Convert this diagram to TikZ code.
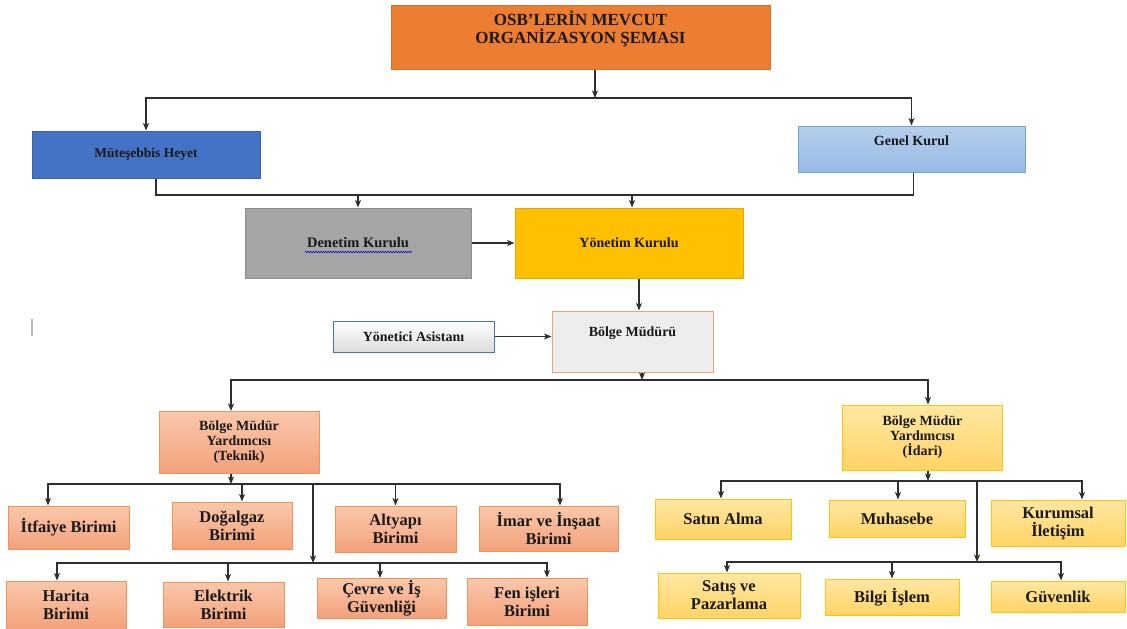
\documentclass[tikz,border=0pt]{standalone}
\usepackage{fontspec}
\setmainfont{Liberation Serif}
\usetikzlibrary{arrows.meta, positioning, calc, decorations.pathmorphing}

\definecolor{titlefill}{HTML}{ED7D31}
\definecolor{titleline}{HTML}{D9702A}
\definecolor{mutfill}{HTML}{4472C4}
\definecolor{mutline}{HTML}{3B63AC}
\definecolor{geneltop}{HTML}{B6CFEC}
\definecolor{genelbot}{HTML}{97BAE5}
\definecolor{genelline}{HTML}{74A3DC}
\definecolor{denfill}{HTML}{A5A5A5}
\definecolor{denline}{HTML}{8E8E8E}
\definecolor{yonfill}{HTML}{FFC000}
\definecolor{yonline}{HTML}{E2A900}
\definecolor{asline}{HTML}{4472C4}
\definecolor{asbot}{HTML}{DCDCDC}
\definecolor{bmfill}{HTML}{EDEDED}
\definecolor{bmline}{HTML}{F4A46E}
\definecolor{tektop}{HTML}{F9C8AB}
\definecolor{tekbot}{HTML}{F3A17B}
\definecolor{tekline}{HTML}{F0935A}
\definecolor{idrtop}{HTML}{FFE7A3}
\definecolor{idrbot}{HTML}{FFD465}
\definecolor{idrline}{HTML}{FFC20E}
\definecolor{linegray}{HTML}{2E2E2E}

\tikzstyle{every box} = []
\tikzstyle{every flow} = []
\tikzstyle{box} = [rectangle, draw, line width=1pt, align=center, inner sep=2pt,
                   text=black!90, every box]
\tikzstyle{flow} = [->, >={Stealth[length=7.5pt,width=6pt,inset=2pt]}, draw=linegray, line width=1.3pt, every flow]
\tikzstyle{branch} = [draw=linegray, line width=1.3pt, every flow]
\tikzstyle{unit} = [box, font=\fontsize{16.5}{18}\selectfont\bfseries]
\tikzstyle{tek} = [unit, draw=tekline, top color=tektop, bottom color=tekbot]
\tikzstyle{idr} = [unit, draw=idrline, top color=idrtop, bottom color=idrbot]

\begin{document}
\begin{tikzpicture}[
x=1pt, y=-1pt,
lift/.style={text depth=#1},
deputy/.style={box, font=\fontsize{14}{15}\selectfont\bfseries, minimum width=160, minimum height=62},
]
\useasboundingbox (0,0) rectangle (1127,629);

%Top
\node[box, draw=titleline, fill=titlefill, font=\fontsize{17}{18}\selectfont\bfseries,
      minimum width=379, minimum height=64, lift=20pt] (title) at (580.5,37)
      {OSB’LERİN MEVCUT\\ORGANİZASYON ŞEMASI};
\coordinate (bus1) at (595,98);
\draw[flow] (title.south -| bus1) -- (bus1);

\node[box, draw=mutline, fill=mutfill, font=\fontsize{13.5}{15}\selectfont\bfseries,
      minimum width=228, minimum height=47] (mut) at (146,154.5) {Müteşebbis Heyet};
\node[box, draw=genelline, top color=geneltop, bottom color=genelbot,
      font=\fontsize{14}{15}\selectfont\bfseries,
      minimum width=227, minimum height=46, lift=16pt] (genel) at (911.5,149) {Genel Kurul};
\draw[flow] (bus1) -| (mut);
\draw[flow] (bus1) -| (genel);

%Boards
\coordinate (bus2) at (500,195);
\node[box, draw=denline, fill=denfill, font=\fontsize{14.5}{15}\selectfont\bfseries,
      minimum width=226, minimum height=70] (denetim) at (358,243) {Denetim Kurulu};
\node[box, draw=yonline, fill=yonfill, font=\fontsize{14}{15}\selectfont\bfseries,
      minimum width=228, minimum height=70] (yonetim) at (629,243) {Yönetim Kurulu};
\draw[branch] ([xshift=10]mut.south) |- ([xshift=2]genel.south |- bus2) -- ([xshift=2]genel.south);
\draw[flow] (denetim.north |- bus2) -- (denetim);
\draw[flow] ([xshift=3]yonetim.north |- bus2) -- ([xshift=3]yonetim.north);
\draw[flow] (denetim) -- (yonetim);
\draw[blue!75!black, line width=0.5pt, decorate, decoration={snake, amplitude=0.7pt, segment length=2.5pt}]
      ($(denetim.center)+(-53,9)$) -- ($(denetim.center)+(54,9)$);

%Manager
\node[box, draw=asline, top color=white, bottom color=asbot, font=\fontsize{14}{15}\selectfont\bfseries,
      minimum width=161, minimum height=31] (asistan) at (413.5,336.5) {Yönetici Asistanı};
\node[box, draw=bmline, fill=bmfill, font=\fontsize{14}{15}\selectfont\bfseries,
      minimum width=161, minimum height=61, lift=19pt] (bolge) at (632.5,341.5) {Bölge Müdürü};
\draw[flow] ([xshift=10]yonetim.south) -- ([xshift=10]yonetim.south |- bolge.north);
\draw[flow] (asistan.east) -- (asistan.east -| bolge.west);
\draw[gray!55, line width=1.5pt] (32,319) -- (32,336);

\coordinate (bus3) at (642,380);
\draw[flow] (bolge.south -| bus3) -- (bus3);
\node[deputy, draw=tekline, top color=tektop, bottom color=tekbot] (teknik) at (239,442.5)
      {Bölge Müdür\\Yardımcısı\\(Teknik)};
\node[deputy, draw=idrline, top color=idrtop, bottom color=idrbot, minimum height=65] (idari) at (922.5,437.5)
      {Bölge Müdür\\Yardımcısı\\(İdari)};
\draw[flow] (bus3) -| ([xshift=-8]teknik.north);
\draw[flow] (bus3) -| ([xshift=5.5]idari.north);

%Technical units
\coordinate (bus4) at (231,484);
\coordinate (bus5) at (313,563);
\draw[flow] (teknik.south -| bus4) -- (bus4);
\node[tek, minimum width=121, minimum height=43] (itfaiye) at (68.5,527.5) {İtfaiye Birimi};
\node[tek, minimum width=120, minimum height=47] (dogalgaz) at (232,525.5) {Doğalgaz\\Birimi};
\node[tek, minimum width=121, minimum height=46] (altyapi) at (395.5,529) {Altyapı\\Birimi};
\node[tek, minimum width=139, minimum height=45] (imar) at (548.5,528.5) {İmar ve İnşaat\\Birimi};
\draw[flow] (bus4) -| ([xshift=-20.5]itfaiye.north);
\draw[flow] (bus4) -| ([xshift=10]dogalgaz.north);
\draw[flow] (bus4) -| (altyapi);
\draw[flow] (bus4) -| ([xshift=11.5]imar.north);
\draw[flow] (bus4 -| bus5) -- (bus5);
\node[tek, minimum width=120, minimum height=48] (harita) at (66,605) {Harita\\Birimi};
\node[tek, minimum width=121, minimum height=45] (elektrik) at (223.5,604.5) {Elektrik\\Birimi};
\node[tek, minimum width=129, minimum height=40] (cevre) at (381.5,598.5) {Çevre ve İş\\Güvenliği};
\node[tek, minimum width=120, minimum height=47] (fen) at (527,601.5) {Fen işleri\\Birimi};
\draw[flow] (bus5) -| ([xshift=-9]harita.north);
\draw[flow] (bus5) -| ([xshift=4.5]elektrik.north);
\draw[flow] (bus5) -| ([xshift=-1.5]cevre.north);
\draw[flow] (bus5) -| ([xshift=20]fen.north);

%Administrative units
\coordinate (bus6) at (928,481);
\coordinate (bus7) at (977,562);
\draw[flow] (idari.south -| bus6) -- (bus6);
\node[idr, minimum width=136, minimum height=40] (satin) at (723,519) {Satın Alma};
\node[idr, minimum width=136, minimum height=37] (muhasebe) at (897,518.5) {Muhasebe};
\node[idr, minimum width=134, minimum height=46] (kurumsal) at (1058,523) {Kurumsal\\İletişim};
\draw[flow] (bus6) -| ([xshift=-2]satin.north);
\draw[flow] (bus6) -| ([xshift=1]muhasebe.north);
\draw[flow] (bus6) -| ([xshift=24]kurumsal.north);
\draw[flow] (bus6 -| bus7) -- (bus7);
\node[idr, minimum width=142, minimum height=45] (satis) at (729,595.5) {Satış ve\\Pazarlama};
\node[idr, minimum width=134, minimum height=36] (bilgi) at (892,597) {Bilgi İşlem};
\node[idr, minimum width=134, minimum height=31] (guvenlik) at (1058,596.5) {Güvenlik};
\draw[flow] (bus7) -| ([xshift=-2]satis.north);
\draw[flow] (bus7) -| (bilgi);
\draw[flow] (bus7) -| ([xshift=3]guvenlik.north);
\end{tikzpicture}
\end{document}
